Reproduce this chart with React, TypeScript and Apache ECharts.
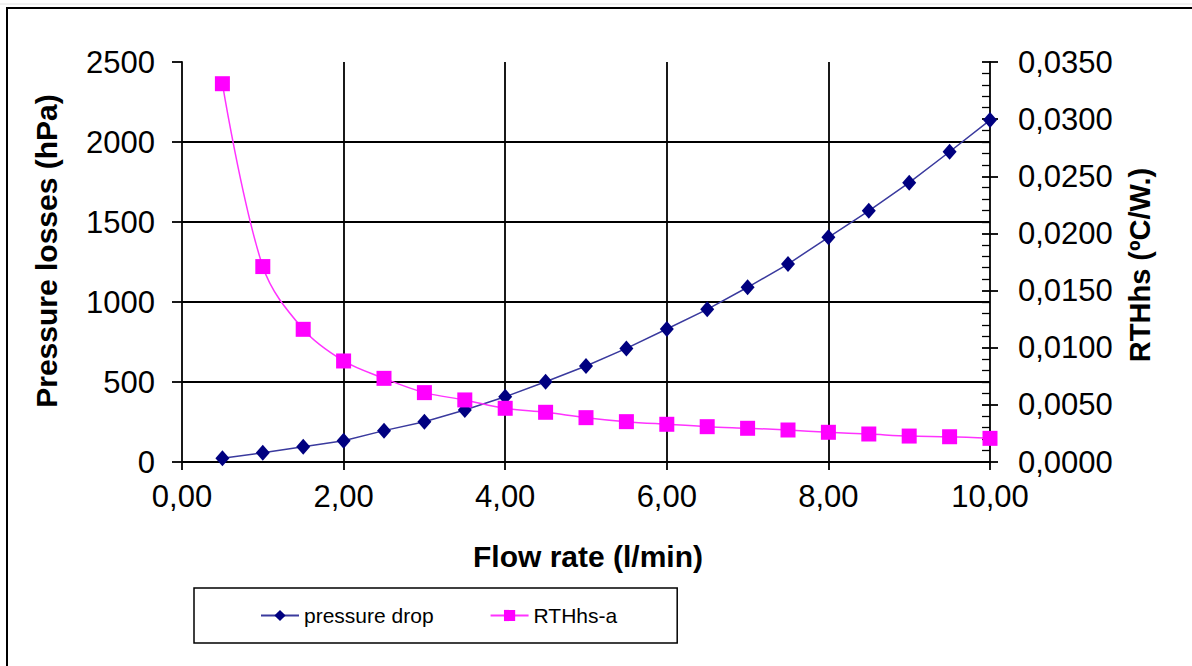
import React, { useEffect, useRef } from "react";
import * as echarts from "echarts";

const flowRate = [0.5, 1, 1.5, 2, 2.5, 3, 3.5, 4, 4.5, 5, 5.5, 6, 6.5, 7, 7.5, 8, 8.5, 9, 9.5, 10];
const pressureDrop = [23, 58, 96, 133, 196, 252, 325, 408, 502, 600, 710, 831, 954, 1092, 1237, 1404, 1570, 1746, 1939, 2137];
const rthHsA = [0.0331, 0.0171, 0.01161, 0.00884, 0.00732, 0.00607, 0.00543, 0.0047, 0.00435, 0.00388, 0.00353, 0.0033, 0.00309, 0.00295, 0.0028, 0.0026, 0.00245, 0.00227, 0.00221, 0.00207];

const seriesNames = ["pressure drop", "RTHhs-a"];
const xTitle = "Flow rate (l/min)";
const yLeftTitle = "Pressure losses (hPa)";
const yRightTitle = "RTHhs (ºC/W.)";

const FONT = "'Liberation Sans', Arial, sans-serif";

export default function App() {
  const ref = useRef<HTMLDivElement>(null);
  useEffect(() => {
    document.body.style.margin = "0";
    const chart = echarts.init(ref.current!, null, { renderer: "svg" });
    const comma = (v: number, d: number) => v.toFixed(d).replace(".", ",");
    const pdData = flowRate.map((x, i) => [x, pressureDrop[i]]);
    const rthData = flowRate.map((x, i) => [x, rthHsA[i]]);
    chart.setOption({
      animation: false,
      backgroundColor: "#fff",
      textStyle: { fontFamily: FONT },
      grid: { left: 182, right: 202, top: 62, height: 400, containLabel: false },
      legend: {
        left: 194,
        top: 588,
        orient: "horizontal",
        borderColor: "#000",
        borderWidth: 1.5,
        padding: [17, 60, 17, 66],
        itemGap: 56,
        itemWidth: 38,
        itemHeight: 14,
        textStyle: { fontFamily: FONT, fontSize: 21, color: "#000" },
        data: seriesNames,
      },
      xAxis: {
        type: "value",
        min: 0,
        max: 10,
        interval: 2,
        axisLine: { show: true, onZero: false, lineStyle: { color: "#000", width: 1.8 } },
        axisTick: { show: true, inside: false, length: 8, lineStyle: { color: "#000", width: 1.8 } },
        axisLabel: {
          margin: 19,
          fontFamily: FONT,
          fontSize: 31,
          color: "#000",
          formatter: (v: number) => comma(v, 2),
        },
        splitLine: { show: true, showMinLine: false, showMaxLine: false, lineStyle: { color: "#000", width: 1.8 } },
      },
      yAxis: [
        {
          type: "value",
          position: "left",
          min: 0,
          max: 2500,
          interval: 500,
          axisLine: { show: true, lineStyle: { color: "#000", width: 1.8 } },
          axisTick: { show: true, inside: false, length: 10, lineStyle: { color: "#000", width: 1.8 } },
          axisLabel: {
            margin: 27,
            fontFamily: FONT,
            fontSize: 31,
            color: "#000",
            formatter: (v: number) => String(v),
          },
          splitLine: { show: true, showMinLine: false, showMaxLine: false, lineStyle: { color: "#000", width: 1.8 } },
        },
        {
          type: "value",
          position: "right",
          min: 0,
          max: 0.035,
          interval: 0.005,
          axisLine: { show: true, lineStyle: { color: "#000", width: 1.8 } },
          axisTick: { show: true, inside: true, length: 8, lineStyle: { color: "#000", width: 1.8 } },
          minorTick: { show: true, splitNumber: 5, length: 8, lineStyle: { color: "#000", width: 1.3 } },
          axisLabel: {
            margin: 28,
            fontFamily: FONT,
            fontSize: 31,
            color: "#000",
            formatter: (v: number) => comma(v, 4),
          },
          splitLine: { show: false },
        },
        {
          type: "value",
          position: "right",
          min: 0,
          max: 0.035,
          interval: 0.005,
          axisLine: { show: false },
          axisTick: { show: true, inside: false, length: 8, lineStyle: { color: "#000", width: 1.8 } },
          axisLabel: { show: false },
          splitLine: { show: false },
        },
      ],
      series: [
        {
          name: seriesNames[0],
          type: "line",
          yAxisIndex: 0,
          data: pdData,
          symbol: "diamond",
          symbolSize: [14, 16],
          itemStyle: { color: "#000080" },
          lineStyle: { color: "#3a3a9e", width: 1.5 },
          z: 3,
        },
        {
          name: seriesNames[1],
          type: "line",
          yAxisIndex: 1,
          data: rthData,
          symbol: "rect",
          symbolSize: 15,
          smooth: 0.35,
          itemStyle: { color: "#ff00ff" },
          lineStyle: { color: "#ff33ff", width: 1.5 },
          z: 4,
        },
      ],
      graphic: [
        {
          type: "rect",
          shape: { x: 7, y: 8, width: 1200, height: 700 },
          style: { fill: "none", stroke: "#000", lineWidth: 2 },
          silent: true,
        },
        {
          type: "line",
          shape: { x1: 0, y1: 4, x2: 1192, y2: 4 },
          style: { stroke: "#e2e2e2", lineWidth: 1 },
          silent: true,
        },
        {
          type: "text",
          x: 588,
          y: 556,
          style: {
            text: xTitle,
            fontFamily: FONT,
            fontWeight: "bold",
            fontSize: 30,
            fill: "#000",
            align: "center",
            verticalAlign: "middle",
          },
        },
        {
          type: "text",
          x: 46,
          y: 251,
          rotation: Math.PI / 2,
          style: {
            text: yLeftTitle,
            fontFamily: FONT,
            fontWeight: "bold",
            fontSize: 30,
            fill: "#000",
            align: "center",
            verticalAlign: "middle",
          },
        },
        {
          type: "text",
          x: 1140,
          y: 265,
          rotation: Math.PI / 2,
          style: {
            text: yRightTitle,
            fontFamily: FONT,
            fontWeight: "bold",
            fontSize: 29,
            fill: "#000",
            align: "center",
            verticalAlign: "middle",
          },
        },
      ],
    });
    return () => chart.dispose();
  }, []);
  return (
    <div
      ref={ref}
      style={{ position: "fixed", left: 0, top: 0, width: 1192, height: 666, background: "#fff" }}
    />
  );
}
